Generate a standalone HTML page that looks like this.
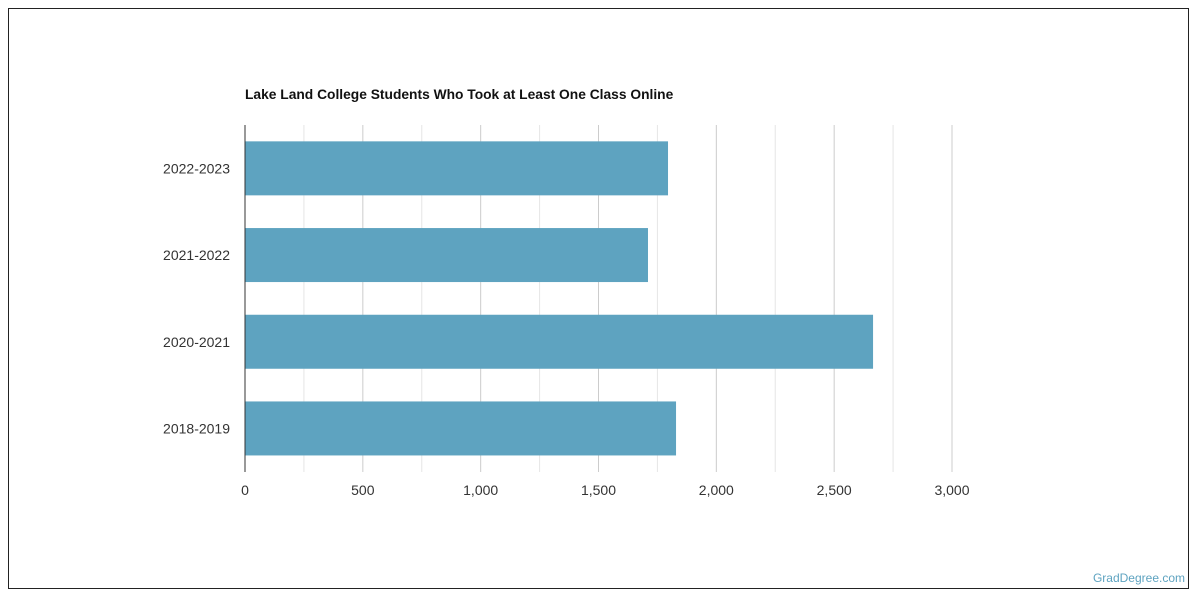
<!DOCTYPE html>
<html><head><meta charset="utf-8"><style>
body{margin:0;background:#fff;font-family:"Liberation Sans",sans-serif;}
#frame{position:absolute;left:8px;top:8px;width:1181px;height:581px;border:1px solid #222;box-sizing:border-box;}
</style></head><body>
<div id="frame"></div>
<svg id="chart" width="1200" height="600" style="position:absolute;left:0;top:0">
<text x="245" y="99" font-size="13.8" font-weight="bold" fill="#111">Lake Land College Students Who Took at Least One Class Online</text>
<text x="1185" y="582" font-size="12" fill="#5ea3c0" text-anchor="end">GradDegree.com</text>
</svg>
<script>
const categories=["2022-2023","2021-2022","2020-2021","2018-2019"];
const values=[1795,1710,2665,1829];
const ticks=[0,500,1000,1500,2000,2500,3000];
const tickLabels=["0","500","1,000","1,500","2,000","2,500","3,000"];
const svgEl=document.getElementById('chart');
const NS='http://www.w3.org/2000/svg';
const x0=245,scaleX=(952-245)/3000,plotTop=125,band=86.7,barH=54;
const xs=v=>x0+v*scaleX;
function mk(t,a){const e=document.createElementNS(NS,t);for(const k in a)e.setAttribute(k,a[k]);svgEl.appendChild(e);return e;}
for(let v=250;v<=3000;v+=250){
 const g=mk('line',{x1:xs(v),x2:xs(v),y1:plotTop,y2:472,stroke:v%500===0?'#ccc':'#e6e6e6','stroke-width':1});
 
 
}
ticks.forEach((v,i)=>{
 const t=mk('text',{x:xs(v),y:495,'font-size':14,fill:'#333','text-anchor':'middle'});
 t.textContent=tickLabels[i];
 
 
});
categories.forEach((c,i)=>{
 const yc=plotTop+band*i+band/2;
 const r=mk('rect',{x:x0,y:yc-barH/2,width:xs(values[i])-x0,height:barH,fill:'#5ea3c0'});
 
 
 const t=mk('text',{x:230,y:yc+5,'font-size':14,fill:'#333','text-anchor':'end'});
 t.textContent=c;
 
 
});
const ax=mk('line',{x1:x0,x2:x0,y1:plotTop,y2:472,stroke:'#333','stroke-width':1});


</script>
</body></html>
